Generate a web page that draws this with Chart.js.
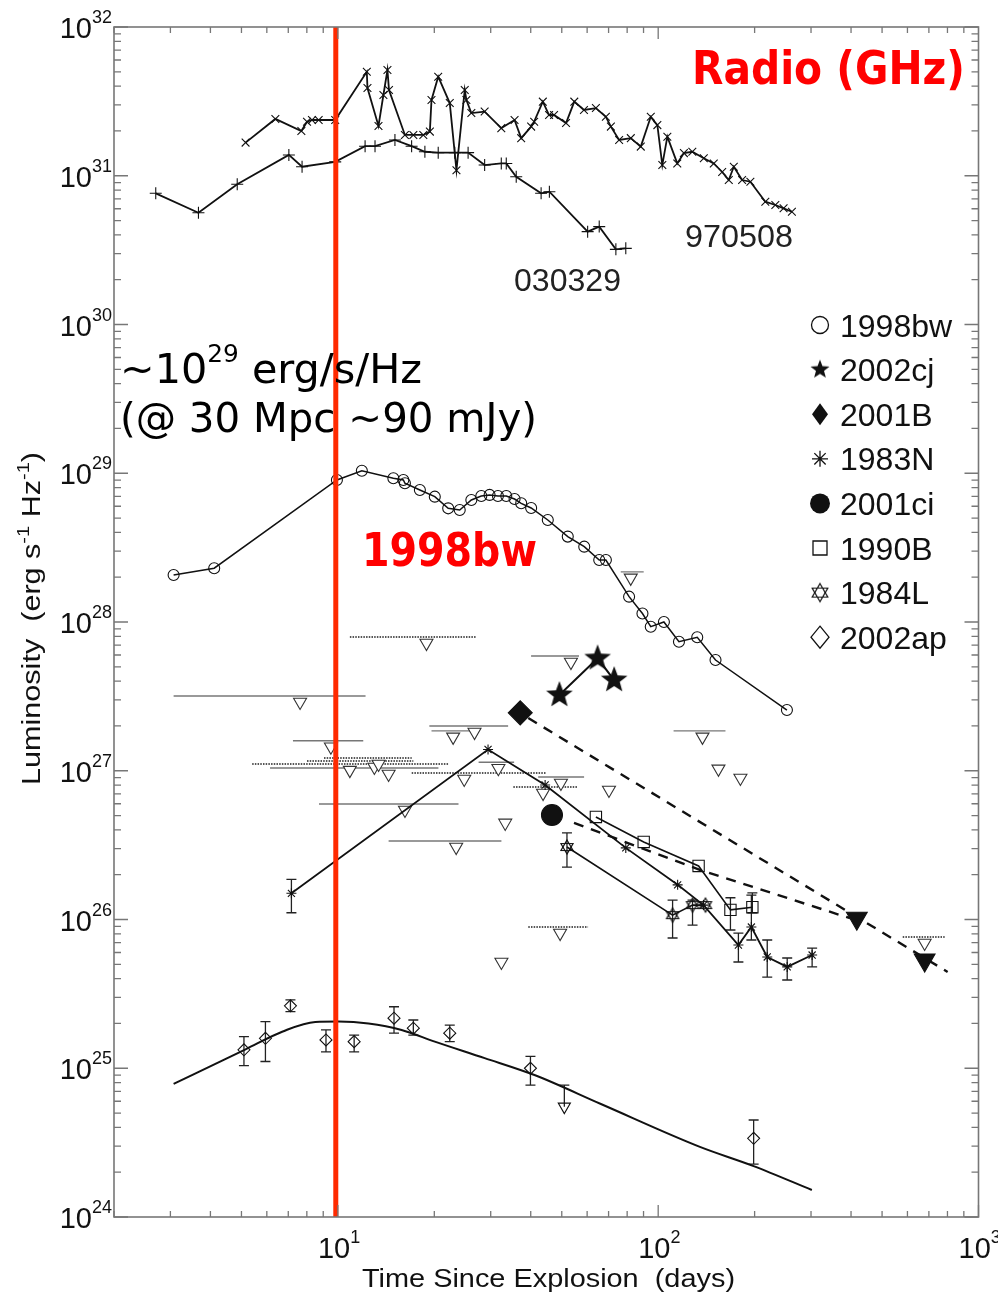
<!DOCTYPE html>
<html>
<head>
<meta charset="utf-8">
<title>Radio light curves</title>
<script src="https://cdn.jsdelivr.net/npm/chart.js@4.4.1/dist/chart.umd.min.js"></script>
<style>
  html, body { margin: 0; padding: 0; background: #fff; }
  #wrap { width: 998px; height: 1298px; }
</style>
</head>
<body>
<div id="wrap"><canvas id="lc" width="998" height="1298"></canvas></div>
<script>
// values: time in days, luminosity in erg/s/Hz

const days970508 = [5.15, 6.38, 7.69, 8.01, 8.30, 8.71, 9.81, 12.31, 12.37, 13.39, 13.87, 14.28, 14.44, 16.19, 17.2, 18.48, 19.37, 19.6, 20.57, 22.35, 23.45, 24.89, 25.19, 26.1, 28.72, 32.37, 35.61, 37.35, 40.12, 41.0, 43.63, 45.64, 47.3, 51.56, 54.71, 58.65, 63.9, 68.66, 71.17, 75.52, 82.13, 88.23, 94.8, 99.4, 103.0, 106.8, 114.7, 120.3, 127.8, 138.8, 149.1, 158.4, 166.1, 172.2, 182.8, 194.0, 216.0, 232.1, 246.3, 261.5];
const lum970508 = [1.67e31, 2.41e31, 2.0e31, 2.31e31, 2.37e31, 2.37e31, 2.37e31, 5.0e31, 3.89e31, 2.16e31, 3.49e31, 5.14e31, 3.77e31, 1.88e31, 1.88e31, 1.88e31, 1.98e31, 3.23e31, 4.63e31, 3.08e31, 1.09e31, 3.77e31, 3.23e31, 2.64e31, 2.70e31, 2.09e31, 2.37e31, 1.79e31, 2.14e31, 2.31e31, 3.15e31, 2.56e31, 2.56e31, 2.26e31, 3.15e31, 2.77e31, 2.85e31, 2.49e31, 2.14e31, 1.74e31, 1.79e31, 1.57e31, 2.49e31, 2.19e31, 1.18e31, 1.83e31, 1.21e31, 1.42e31, 1.45e31, 1.31e31, 1.21e31, 1.06e31, 9.36e30, 1.15e31, 9.36e30, 9.12e30, 6.69e30, 6.36e30, 6.04e30, 5.73e30];

const days030329 = [2.70, 3.67, 4.85, 7.03, 7.73, 9.81, 12.16, 13.06, 15.07, 16.99, 18.69, 20.57, 23.17, 25.5, 28.72, 32.37, 33.55, 36.04, 43.1, 45.74, 60.22, 65.45, 73.77, 79.22];
const lum030329 = [7.62e30, 5.64e30, 8.76e30, 1.38e31, 1.15e31, 1.24e31, 1.58e31, 1.58e31, 1.74e31, 1.58e31, 1.45e31, 1.43e31, 1.43e31, 1.43e31, 1.18e31, 1.21e31, 1.21e31, 9.85e30, 7.62e30, 7.81e30, 4.21e30, 4.55e30, 3.20e30, 3.25e30];

const days1998bw = [3.07, 4.11, 9.93, 11.88, 14.9, 16.01, 16.19, 18.03, 20.07, 22.1, 24.01, 26.1, 28.04, 29.76, 31.6, 33.55, 35.61, 37.35, 40.12, 45.22, 52.2, 58.77, 65.45, 68.66, 81.12, 89.3, 94.8, 104.2, 116.1, 132.4, 151.0, 252.3];
const lum1998bw = [2.07e28, 2.30e28, 9.01e28, 1.04e29, 9.25e28, 9.01e28, 8.56e28, 7.71e28, 6.96e28, 5.81e28, 5.66e28, 6.61e28, 7.03e28, 7.15e28, 7.03e28, 7.03e28, 6.71e28, 6.28e28, 5.84e28, 4.85e28, 3.75e28, 3.21e28, 2.61e28, 2.61e28, 1.48e28, 1.14e28, 9.30e27, 1.0e28, 7.37e27, 7.89e27, 5.55e27, 2.56e27];

const days2002cj = [49.15, 64.7, 72.87];
const lum2002cj = [3.23e27, 5.70e27, 4.07e27];

const days2001B = [37.09];
const lum2001B = [2.45e27];
const days2001Blim = [417, 679];
const lum2001Blim = [1.02e26, 5.34e25];
const days2001Bfit = [39.3, 801];
const lum2001Bfit = [2.26e27, 4.44e25];

const days2001ci = [46.6];
const lum2001ci = [5.04e26];
const days2001ciFit = [54.6, 135.5, 397];
const lum2001ciFit = [4.46e26, 2.15e26, 1.02e26];

const days1983N = [7.16, 29.43, 44.36, 79.22, 115.0, 138.5, 178.0, 195.4, 219.0, 252.8, 302.4];
const lum1983N = [1.50e26, 1.39e27, 8.02e26, 3.03e26, 1.71e26, 1.25e26, 6.74e25, 8.90e25, 5.60e25, 4.80e25, 5.77e25];
const lo1983N = [1.11e26, null, null, null, null, null, 5.18e25, 7.28e25, 4.10e25, 3.92e25, 4.80e25];
const hi1983N = [1.86e26, null, null, null, null, null, 8.11e25, 1.46e26, 7.28e25, 5.51e25, 6.43e25];

const days1990B = [63.9, 90.1, 133.7, 168.1, 196.8];
const lum1990B = [4.89e26, 3.32e26, 2.29e26, 1.16e26, 1.21e26];
const lo1990B = [null, null, null, 8.50e25, 1.11e26];
const hi1990B = [null, null, null, 1.40e26, 1.51e26];

const days1984L = [51.9, 110.9, 128.0, 140.5];
const lum1984L = [3.07e26, 1.07e26, 1.25e26, 1.25e26];
const lo1984L = [2.25e26, 7.51e25, 9.18e25, null];
const hi1984L = [3.82e26, 1.35e26, 1.35e26, null];

const days2002ap = [5.09, 5.94, 7.11, 9.18, 11.24, 14.97, 17.2, 22.35, 39.92, 198.6];
const lum2002ap = [1.33e25, 1.59e25, 2.63e25, 1.55e25, 1.51e25, 2.17e25, 1.86e25, 1.72e25, 1.0e25, 3.38e24];
const lo2002ap = [1.04e25, 1.11e25, 2.40e25, 1.29e25, 1.29e25, 1.72e25, 1.67e25, 1.51e25, 7.71e24, 2.27e24];
const hi2002ap = [1.63e25, 2.06e25, 2.88e25, 1.81e25, 1.67e25, 2.59e25, 2.11e25, 1.95e25, 1.20e25, 4.49e24];
const days2002apLim = [50.93];
const lum2002apLim = [5.52e24];
const hi2002apLim = [7.71e24];
const days2002apModel = [3.07, 5.15, 6.70, 8.50, 10.05, 12.46, 15.81, 20.07, 28.72, 41.09, 66.25, 135.6, 198.6, 301.8];
const lum2002apModel = [7.84e24, 1.34e25, 1.76e25, 2.05e25, 2.06e25, 2.00e25, 1.81e25, 1.51e25, 1.17e25, 9.00e24, 5.75e24, 2.95e24, 2.20e24, 1.52e24];

// upper limits (open triangles) with their time spans
const limDays = [18.9, 7.62, 9.51, 10.9, 13.0, 13.4, 14.4, 22.9, 26.7, 24.8, 31.7, 49.7, 43.7, 16.2, 33.3, 23.4, 49.4, 32.4, 53.4, 82.1, 137.5, 154.2, 180.6, 679, 70.2];
const limLum = [7.22e27, 2.90e27, 1.45e27, 1.01e27, 1.06e27, 1.11e27, 9.51e26, 1.69e27, 1.82e27, 8.81e26, 1.04e27, 8.27e26, 7.08e26, 5.45e26, 4.46e26, 3.07e26, 8.11e25, 5.18e25, 5.38e27, 1.98e28, 1.69e27, 1.03e27, 8.94e26, 6.95e25, 7.43e26];
const limFrom = [10.9, 3.07, 7.24, 5.40, 8.01, 9.05, 6.14, 19.6, 19.3, 17.0, 27.5, 42.2, 35.3, 8.73, null, 14.4, 39.3, null, 40.1, 76.4, 111.7, null, null, 580, null];
const limTo = [27.1, 12.2, 12.0, 22.1, 17.2, 17.0, 20.6, 26.7, 34.0, 44.7, 35.5, 58.7, 56.2, 23.8, null, 32.4, 60.4, null, 56.6, 90.1, 162.2, null, null, 784, null];

const markerDay = [9.85, 9.85];
const markerLum = [1e24, 1e32];

const yTickExp = [24, 25, 26, 27, 28, 29, 30, 31, 32];
const xTickExp = [1, 2, 3];
const legendNames = ['1998bw', '2002cj', '2001B', '1983N', '2001ci', '1990B', '1984L', '2002ap'];

// ---- styling helpers ----
const dottedBars = [0, 3, 4, 5, 9, 12, 16, 23];
const pts = (xs, ys) => xs.map((x, i) => ({ x: x, y: ys[i] }));

function makeStar(R, fill) {
    const c = document.createElement('canvas');
    c.width = c.height = Math.ceil(R * 2 + 4);
    const g = c.getContext('2d');
    const cx = c.width / 2, cy = c.height / 2;
    g.beginPath();
    for (let i = 0; i < 10; i++) {
        const r = i % 2 === 0 ? R : R * 0.42;
        const a = -Math.PI / 2 + i * Math.PI / 5;
        g.lineTo(cx + r * Math.cos(a), cy + r * Math.sin(a));
    }
    g.closePath();
    g.fillStyle = fill;
    g.fill();
    return c;
}

function makeHexagram(R) {
    const c = document.createElement('canvas');
    c.width = c.height = Math.ceil(R * 2 + 4);
    const g = c.getContext('2d');
    const cx = c.width / 2, cy = c.height / 2;
    g.strokeStyle = '#111';
    g.lineWidth = 1.2;
    [-Math.PI / 2, Math.PI / 2].forEach(start => {
        g.beginPath();
        for (let i = 0; i < 3; i++) {
            const a = start + i * 2 * Math.PI / 3;
            g.lineTo(cx + R * Math.cos(a), cy + R * Math.sin(a));
        }
        g.closePath();
        g.stroke();
    });
    return c;
}

const starImg = makeStar(14, '#111');
const hexImg = makeHexagram(7);

function runWidth(ctx, parts) {
    let w = 0;
    parts.forEach(p => { ctx.font = p.font; w += ctx.measureText(p.text).width; });
    return w;
}

function drawRun(ctx, parts, x, y, width, color) {
    const w = runWidth(ctx, parts);
    const sx = width ? width / w : 1;
    ctx.save();
    ctx.translate(x, y);
    ctx.scale(sx, 1);
    ctx.fillStyle = color;
    ctx.textAlign = 'left';
    ctx.textBaseline = 'alphabetic';
    let cx = 0;
    parts.forEach(p => {
        ctx.font = p.font;
        ctx.fillText(p.text, cx, p.dy || 0);
        cx += ctx.measureText(p.text).width;
    });
    ctx.restore();
}

const errorBars = {
    id: 'errorBars',
    beforeDatasetsDraw(chart) {
        const { ctx, chartArea: a, scales: { x, y } } = chart;
        ctx.save();
        ctx.beginPath();
        ctx.rect(a.left, a.top, a.right - a.left, a.bottom - a.top);
        ctx.clip();
        chart.data.datasets.forEach(ds => {
            if (ds.xFrom) {
                ds.data.forEach((p, i) => {
                    if (ds.xFrom[i] == null) return;
                    const py = y.getPixelForValue(p.y) - 6;
                    const dotted = dottedBars.indexOf(i) >= 0;
                    ctx.strokeStyle = dotted ? '#555' : '#777';
                    ctx.lineWidth = dotted ? 2 : 1.4;
                    ctx.setLineDash(dotted ? [1.5, 1.2] : []);
                    ctx.beginPath();
                    ctx.moveTo(x.getPixelForValue(ds.xFrom[i]), py);
                    ctx.lineTo(x.getPixelForValue(ds.xTo[i]), py);
                    ctx.stroke();
                });
                ctx.setLineDash([]);
            }
            if (ds.yLo || ds.yHi) {
                ctx.strokeStyle = '#222';
                ctx.lineWidth = 1.3;
                ds.data.forEach((p, i) => {
                    const lo = ds.yLo ? ds.yLo[i] : p.y;
                    const hi = ds.yHi ? ds.yHi[i] : p.y;
                    if (lo == null || hi == null) return;
                    const px = x.getPixelForValue(p.x);
                    const p1 = y.getPixelForValue(lo), p2 = y.getPixelForValue(hi);
                    ctx.beginPath();
                    ctx.moveTo(px, p1); ctx.lineTo(px, p2);
                    if (ds.yLo) { ctx.moveTo(px - 5, p1); ctx.lineTo(px + 5, p1); }
                    ctx.moveTo(px - 5, p2); ctx.lineTo(px + 5, p2);
                    ctx.stroke();
                });
            }
        });
        ctx.restore();
    }
};

function legendMarker(ctx, i, cx, cy) {
    ctx.save();
    ctx.strokeStyle = '#111';
    ctx.fillStyle = '#111';
    ctx.lineWidth = 1.3;
    ctx.beginPath();
    if (i === 0) { ctx.arc(cx, cy, 8.5, 0, Math.PI * 2); ctx.stroke(); }
    if (i === 1) { const s = makeStar(10, '#111'); ctx.drawImage(s, cx - s.width / 2, cy - s.height / 2); }
    if (i === 2) { ctx.moveTo(cx, cy - 11); ctx.lineTo(cx + 8, cy); ctx.lineTo(cx, cy + 11); ctx.lineTo(cx - 8, cy); ctx.closePath(); ctx.fill(); }
    if (i === 3) {
        for (let k = 0; k < 4; k++) {
            const a = k * Math.PI / 4;
            ctx.moveTo(cx - 8 * Math.cos(a), cy - 8 * Math.sin(a));
            ctx.lineTo(cx + 8 * Math.cos(a), cy + 8 * Math.sin(a));
        }
        ctx.stroke();
    }
    if (i === 4) { ctx.arc(cx, cy, 10, 0, Math.PI * 2); ctx.fill(); }
    if (i === 5) { ctx.rect(cx - 7, cy - 7, 14, 14); ctx.stroke(); }
    if (i === 6) { const h = makeHexagram(9); ctx.drawImage(h, cx - h.width / 2, cy - h.height / 2); }
    if (i === 7) { ctx.moveTo(cx, cy - 11); ctx.lineTo(cx + 9, cy); ctx.lineTo(cx, cy + 11); ctx.lineTo(cx - 9, cy); ctx.closePath(); ctx.stroke(); }
    ctx.restore();
}

const decorations = {
    id: 'decorations',
    afterDraw(chart) {
        const { ctx, chartArea: a, scales: { x, y } } = chart;
        ctx.save();

        // frame with inward ticks on all four sides
        ctx.strokeStyle = '#777';
        ctx.lineWidth = 1.6;
        ctx.strokeRect(a.left, a.top, a.right - a.left, a.bottom - a.top);
        ctx.lineWidth = 1.3;
        ctx.beginPath();
        yTickExp.forEach(e => {
            for (let k = 1; k <= 9; k++) {
                if (e === 32 && k > 1) break;
                const py = y.getPixelForValue(k * Math.pow(10, e));
                const len = k === 1 ? 14 : 7;
                ctx.moveTo(a.left, py); ctx.lineTo(a.left + len, py);
                ctx.moveTo(a.right, py); ctx.lineTo(a.right - len, py);
            }
        });
        [0, 1, 2].forEach(e => {
            for (let k = 1; k <= 9; k++) {
                const v = k * Math.pow(10, e);
                if (v < 2 || v > 1000) continue;
                const px = x.getPixelForValue(v);
                const len = k === 1 ? 12 : 6;
                ctx.moveTo(px, a.bottom); ctx.lineTo(px, a.bottom - len);
                ctx.moveTo(px, a.top); ctx.lineTo(px, a.top + len);
            }
        });
        const pk = x.getPixelForValue(1000);
        ctx.moveTo(pk, a.bottom); ctx.lineTo(pk, a.bottom - 12);
        ctx.stroke();

        // tick labels
        const base = '29px "Liberation Sans", Arial, sans-serif';
        const sup = '18px "Liberation Sans", Arial, sans-serif';
        yTickExp.forEach(e => {
            const py = y.getPixelForValue(Math.pow(10, e));
            const parts = [{ text: '10', font: base, dy: 0 }, { text: String(e), font: sup, dy: -15 }];
            const w = runWidth(ctx, parts);
            drawRun(ctx, parts, 112 - w, py + 11, null, '#111');
        });
        xTickExp.forEach(e => {
            const px = x.getPixelForValue(Math.pow(10, e));
            drawRun(ctx, [{ text: '10', font: base, dy: 0 }, { text: String(e), font: sup, dy: -15 }], px - 20, 1258, null, '#111');
        });

        // axis titles
        const tf = '26px "Liberation Sans Narrow", "Liberation Sans", Arial, sans-serif';
        const tsf = '17px "Liberation Sans Narrow", "Liberation Sans", Arial, sans-serif';
        drawRun(ctx, [{ text: 'Time Since Explosion  (days)', font: tf }], 362, 1287, 373, '#111');
        ctx.save();
        ctx.translate(40, 619);
        ctx.rotate(-Math.PI / 2);
        drawRun(ctx, [
            { text: 'Luminosity  (erg s', font: tf },
            { text: '-1', font: tsf, dy: -11 },
            { text: ' Hz', font: tf },
            { text: '-1', font: tsf, dy: -11 },
            { text: ')', font: tf }
        ], -166, 0, 333, '#111');
        ctx.restore();

        // curve labels
        const lf = '32px "Liberation Sans", Arial, sans-serif';
        drawRun(ctx, [{ text: '970508', font: lf }], 685, 247, 108, '#222');
        drawRun(ctx, [{ text: '030329', font: lf }], 514, 291, 107, '#222');

        // legend
        legendNames.forEach((name, i) => {
            const cy = 325 + i * 44.6;
            legendMarker(ctx, i, 820, cy);
            drawRun(ctx, [{ text: name, font: lf }], 840, cy + 11.5, null, '#111');
        });

        // annotations
        const big = 'bold 46px "DejaVu Sans", sans-serif';
        drawRun(ctx, [{ text: 'Radio (GHz)', font: big }], 692, 84, 273, '#ff0000');
        drawRun(ctx, [{ text: '1998bw', font: big }], 362, 566, 175, '#ff0000');
        const nf = '40px "DejaVu Sans", sans-serif';
        const nsf = '24px "DejaVu Sans", sans-serif';
        drawRun(ctx, [
            { text: '~10', font: nf },
            { text: '29', font: nsf, dy: -21 },
            { text: ' erg/s/Hz', font: nf }
        ], 120, 383, 302, '#000');
        drawRun(ctx, [{ text: '(@ 30 Mpc ~90 mJy)', font: nf }], 120, 432, 417, '#000');

        ctx.restore();
    }
};

const lineSet = (label, xs, ys, extra) => Object.assign({
    label: label,
    data: pts(xs, ys),
    showLine: true,
    borderColor: '#111',
    borderWidth: 1.6,
    pointBorderColor: '#111',
    pointBackgroundColor: 'rgba(0,0,0,0)',
    pointBorderWidth: 1.1,
    pointRadius: 5
}, extra || {});

const chart = new Chart(document.getElementById('lc'), {
    type: 'scatter',
    data: {
        datasets: [
            lineSet('t = 10 d', markerDay, markerLum, { borderColor: '#ff2a00', borderWidth: 5, pointRadius: 0 }),
            lineSet('1998bw', days1998bw, lum1998bw, { pointStyle: 'circle', pointRadius: 5.5, borderWidth: 1.5 }),
            lineSet('2002cj', days2002cj, lum2002cj, { pointStyle: starImg, borderWidth: 2 }),
            lineSet('2001B', days2001B, lum2001B, { pointStyle: 'rectRot', pointRadius: 12, pointBackgroundColor: '#111', showLine: false }),
            lineSet('2001B limits', days2001Blim, lum2001Blim, { pointStyle: 'triangle', rotation: 180, pointRadius: 12, pointBackgroundColor: '#111', showLine: false }),
            lineSet('2001B decline', days2001Bfit, lum2001Bfit, { borderDash: [10, 8], borderWidth: 2.4, pointRadius: 0 }),
            lineSet('2001ci', days2001ci, lum2001ci, { pointStyle: 'circle', pointRadius: 10.5, pointBackgroundColor: '#111', showLine: false }),
            lineSet('2001ci decline', days2001ciFit, lum2001ciFit, { borderDash: [10, 8], borderWidth: 2.4, pointRadius: 0 }),
            lineSet('1983N', days1983N, lum1983N, { pointStyle: 'star', pointRadius: 5, borderWidth: 1.8, yLo: lo1983N, yHi: hi1983N }),
            lineSet('1990B', days1990B, lum1990B, { pointStyle: 'rect', pointRadius: 8, borderWidth: 1.6, yLo: lo1990B, yHi: hi1990B }),
            lineSet('1984L', days1984L, lum1984L, { pointStyle: hexImg, borderWidth: 1.6, yLo: lo1984L, yHi: hi1984L }),
            lineSet('2002ap', days2002ap, lum2002ap, { pointStyle: 'rectRot', pointRadius: 6, showLine: false, yLo: lo2002ap, yHi: hi2002ap }),
            lineSet('2002ap limit', days2002apLim, lum2002apLim, { pointStyle: 'triangle', rotation: 180, pointRadius: 7, showLine: false, yHi: hi2002apLim }),
            lineSet('2002ap model', days2002apModel, lum2002apModel, { pointRadius: 0, borderWidth: 2, cubicInterpolationMode: 'monotone' }),
            lineSet('limits', limDays, limLum, { pointStyle: 'triangle', rotation: 180, pointRadius: 7.5, pointBackgroundColor: '#fff', pointBorderColor: '#333', showLine: false, xFrom: limFrom, xTo: limTo }),
            lineSet('970508', days970508, lum970508, { pointStyle: 'crossRot', pointRadius: 5.5, borderWidth: 1.8 }),
            lineSet('030329', days030329, lum030329, { pointStyle: 'cross', pointRadius: 6, borderWidth: 1.8 })
        ]
    },
    options: {
        responsive: false,
        devicePixelRatio: 1,
        animation: false,
        events: [],
        layout: { padding: { left: 114, right: 19.5, top: 27, bottom: 81 } },
        plugins: { legend: { display: false }, tooltip: { enabled: false } },
        scales: {
            x: { type: 'logarithmic', min: 2, max: 1000, display: false },
            y: { type: 'logarithmic', min: 1e24, max: 1e32, display: false }
        }
    },
    plugins: [errorBars, decorations]
});
</script>
</body>
</html>
